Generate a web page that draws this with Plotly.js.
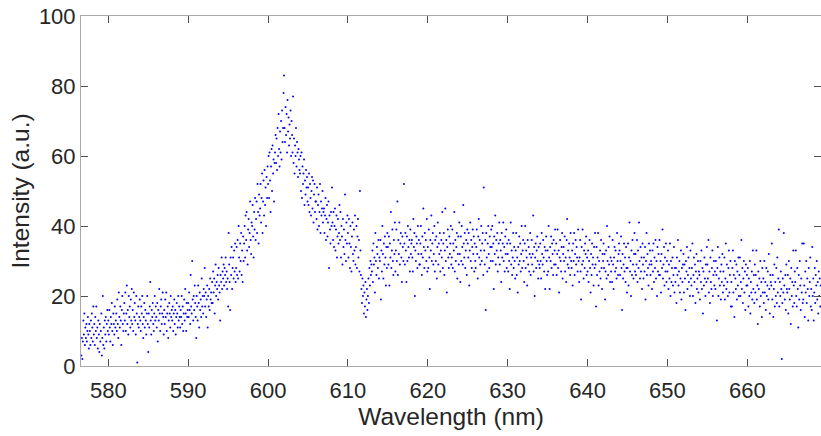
<!DOCTYPE html>
<html>
<head>
<meta charset="utf-8">
<script src="https://cdn.plot.ly/plotly-3.0.1.min.js"></script>
<style>html,body{margin:0;padding:0;background:#fff}#chart{width:821px;height:436px}</style>
</head>
<body>
<div id="chart"></div>
<script>
// Wavelength sampling (nm)
const wlStep = 0.0625;
const blockStarts = [576.625, 580, 590, 600, 610, 620, 630, 640, 650, 660];

// Intensity (a.u.), one row of 16 samples per nm
const int576 = [3,8,2,7,13,9,15,6,11,8,12,7,10,14,9,5,
  12,10,6,13,8,15,11,7,17,9,12,6,14,10,17,8,
  11,5,13,9,4,12,7,10,15,3,8,20,6,11,5,13,
  9,14,7,12,16,10];
const int580 = [13,9,16,11,7,14,12,18,10,6,15,12,9,17,11,13,
  15,10,19,12,8,21,14,11,17,13,6,16,20,12,10,15,
  18,13,21,10,15,23,12,16,9,20,14,17,11,19,13,22,
  12,16,10,21,14,18,13,9,20,15,1,12,17,11,14,19,
  13,10,17,15,20,12,8,14,18,11,16,13,9,15,20,12,
  4,15,11,17,24,13,9,16,14,18,12,10,15,20,13,17,
  14,11,18,7,16,13,22,15,10,17,19,12,15,21,14,9,
  16,12,19,14,21,10,15,17,8,13,18,15,11,20,14,16,
  13,17,10,15,19,12,16,9,14,18,15,11,20,13,17,14,
  11,16,14,20,12,17,10,15,19,13,22,15,10,18,14,16];
const int590 = [18,14,21,16,12,26,17,15,30,19,13,20,16,23,18,14,
  8,20,17,13,23,18,11,21,16,19,14,25,17,20,15,22,
  20,28,17,21,14,19,23,11,20,17,22,16,25,19,21,18,
  24,18,27,21,25,15,23,29,20,24,22,26,19,28,23,21,
  13,26,24,31,22,27,25,29,23,28,26,31,24,27,22,25,
  17,38,29,24,16,31,26,34,22,28,31,25,33,27,35,24,
  28,34,26,36,25,40,31,27,35,30,38,26,33,24,37,30,
  35,40,31,43,36,44,33,29,39,42,34,38,47,36,32,41,
  40,46,37,31,44,39,48,36,42,47,38,52,44,35,49,43,
  45,52,41,48,55,38,47,53,43,56,46,51,40,54,48,57];
const int600 = [52,60,48,61,53,44,57,62,50,63,55,59,47,58,61,66,
  58,65,56,68,60,72,62,57,67,61,70,59,73,64,68,78,
  83,68,64,74,66,72,61,76,67,71,63,69,65,73,60,70,
  66,61,77,58,65,55,63,60,68,57,64,61,54,62,59,56,
  55,60,50,61,48,57,52,55,59,46,53,49,56,51,54,47,
  51,46,55,44,52,48,43,50,54,45,53,41,49,52,44,47,
  47,42,51,39,46,49,40,44,52,38,47,43,45,50,41,44,
  45,38,43,48,36,42,46,37,41,47,28,43,39,35,44,40,
  51,41,36,44,34,40,45,33,39,43,31,37,42,35,38,46,
  36,44,31,40,37,29,42,34,39,32,49,36,30,41,35,43];
const int610 = [38,31,42,35,28,40,34,27,37,41,32,30,39,33,43,29,
  34,40,28,37,42,31,36,27,50,33,26,22,18,25,20,23,
  15,21,17,24,14,19,22,16,20,25,18,28,23,30,26,29,
  27,33,24,35,29,31,21,38,30,26,34,32,28,36,25,31,
  30,36,19,33,27,40,32,25,35,29,37,31,23,34,28,38,
  34,29,37,23,35,31,44,28,33,39,30,26,36,32,41,27,
  33,39,30,47,26,36,32,41,29,35,38,31,24,37,34,30,
  52,35,29,38,33,24,37,30,40,34,31,36,27,39,32,35,
  36,31,27,42,34,38,20,33,30,37,35,28,40,32,36,29,
  29,35,40,32,26,37,31,45,34,28,38,33,36,30,42,27];
const int620 = [34,28,39,31,22,36,33,43,30,35,38,29,32,40,27,36,
  30,37,25,34,41,29,35,32,38,27,33,36,31,44,28,35,
  38,26,33,45,30,36,21,34,39,31,28,37,32,35,40,29,
  31,39,28,35,33,44,27,36,30,34,38,25,32,37,29,41,
  32,24,37,30,40,34,29,46,35,31,38,28,33,36,26,39,
  35,31,38,23,33,41,30,36,28,34,39,32,37,27,35,30,
  28,34,39,32,25,37,42,31,36,29,33,40,30,35,38,26,
  51,33,29,36,16,38,31,27,35,40,32,28,37,34,30,39,
  34,40,30,35,22,37,32,43,29,36,33,38,27,31,35,41,
  29,36,33,24,38,31,35,41,30,34,27,37,32,39,28,35];
const int630 = [32,27,36,30,22,35,41,29,33,26,31,38,28,34,30,25,
  33,38,26,31,21,34,29,37,30,35,27,32,40,28,33,36,
  30,24,35,40,28,33,31,23,36,29,34,27,32,38,26,31,
  36,29,32,43,27,34,20,31,35,28,33,37,30,25,34,29,
  28,35,30,25,38,32,29,36,31,27,34,22,33,37,30,26,
  33,27,40,31,22,34,30,37,28,35,32,26,36,29,33,39,
  29,35,26,32,39,28,33,21,31,36,30,27,34,38,25,32,
  34,30,37,27,31,24,36,42,29,33,28,35,31,26,38,30,
  28,33,23,35,30,38,26,32,36,29,34,31,27,39,30,24,
  31,36,27,19,34,29,39,30,25,33,28,35,32,37,26,31];
const int640 = [27,33,24,30,36,28,21,32,26,35,29,31,23,34,28,38,
  29,17,34,26,31,38,23,30,27,33,25,36,28,22,32,30,
  35,28,32,19,27,33,25,40,30,26,34,29,37,24,31,27,
  30,24,36,29,22,31,34,27,33,28,25,38,30,26,32,35,
  33,26,30,37,28,16,32,25,29,35,27,31,24,34,28,21,
  28,35,23,31,41,27,30,20,33,26,36,29,25,32,38,27,
  32,26,29,36,24,33,28,41,30,25,34,27,31,22,35,29,
  25,31,27,34,19,30,38,26,32,28,23,35,29,33,26,30,
  29,22,33,27,35,24,31,28,36,25,30,20,34,27,32,26,
  36,26,30,21,32,28,39,25,29,34,23,31,27,35,24,30];
const int650 = [27,33,22,29,25,35,20,30,24,28,31,23,26,34,21,28,
  24,28,18,31,26,36,23,27,30,21,25,33,19,28,24,29,
  32,21,29,25,16,30,27,34,22,26,31,24,28,20,33,25,
  23,28,35,20,26,31,24,29,18,27,32,22,25,30,21,27,
  26,19,30,24,33,22,28,15,27,23,31,25,20,29,24,34,
  29,25,36,21,27,18,31,24,22,28,33,20,26,30,23,27,
  22,30,26,13,28,34,20,25,31,23,27,19,29,24,32,21,
  27,23,31,19,25,35,22,29,24,20,28,33,21,26,30,17,
  24,17,28,33,21,26,14,30,25,22,29,19,27,23,31,20,
  26,31,20,24,36,22,28,18,25,30,21,27,16,29,23,26];
const int660 = [23,28,17,25,20,30,15,24,21,27,19,33,22,26,18,29,
  21,26,33,19,23,12,27,22,25,17,30,20,24,14,28,21,
  25,18,30,21,24,16,28,20,23,27,19,32,22,15,26,24,
  23,35,19,26,14,22,29,17,24,20,28,18,31,21,25,39,
  17,24,20,27,22,2,18,25,21,38,23,19,26,16,29,22,
  21,26,15,30,22,19,25,12,28,20,24,17,33,23,18,27,
  24,33,20,17,28,22,11,26,19,30,23,16,25,21,35,18,
  19,35,23,14,27,21,30,18,25,22,13,28,20,24,31,17,
  22,16,34,20,25,13,21,28,18,26,23,30,19,24,15,27,
  20,25,17,23];

const blocks = [int576, int580, int590, int600, int610, int620, int630, int640, int650, int660];
const wavelength = [], intensity = [];
blocks.forEach((b, k) => b.forEach((v, i) => {
  wavelength.push(blockStarts[k] + i * wlStep);
  intensity.push(v);
}));

const xTicks = [580, 590, 600, 610, 620, 630, 640, 650, 660];
const yTicks = [0, 20, 40, 60, 80, 100];

const font = 'Liberation Sans, Arial, Helvetica, sans-serif';
const axisCommon = {
  showline: true, mirror: 'ticks', linecolor: '#a8a8a8', linewidth: 1,
  ticks: 'inside', ticklen: 7, tickcolor: '#505050', tickwidth: 1,
  showgrid: false, zeroline: false,
  tickfont: {family: font, size: 22, color: '#262626'},
  tickmode: 'array'
};

Plotly.newPlot('chart', [{
  type: 'scatter', mode: 'markers',
  x: wavelength, y: intensity,
  marker: {color: '#0000ff', size: 2.0, line: {width: 0}},
  hoverinfo: 'none'
}], {
  width: 821, height: 436,
  margin: {l: 81, r: 0, t: 16, b: 70},
  paper_bgcolor: '#ffffff', plot_bgcolor: '#ffffff',
  showlegend: false,
  xaxis: Object.assign({}, axisCommon, {
    range: [576.58, 669.22], tickvals: xTicks, ticktext: xTicks.map(String),
    ticklabelstandoff: 5,
    title: {text: 'Wavelength (nm)', font: {family: font, size: 24.5, color: '#262626'}, standoff: 3}
  }),
  yaxis: Object.assign({}, axisCommon, {
    range: [0, 100], tickvals: yTicks, ticktext: yTicks.map(String),
    title: {text: 'Intensity (a.u.)', font: {family: font, size: 24.5, color: '#262626'}, standoff: 2}
  })
}, {displayModeBar: false, staticPlot: true});
</script>
</body>
</html>
